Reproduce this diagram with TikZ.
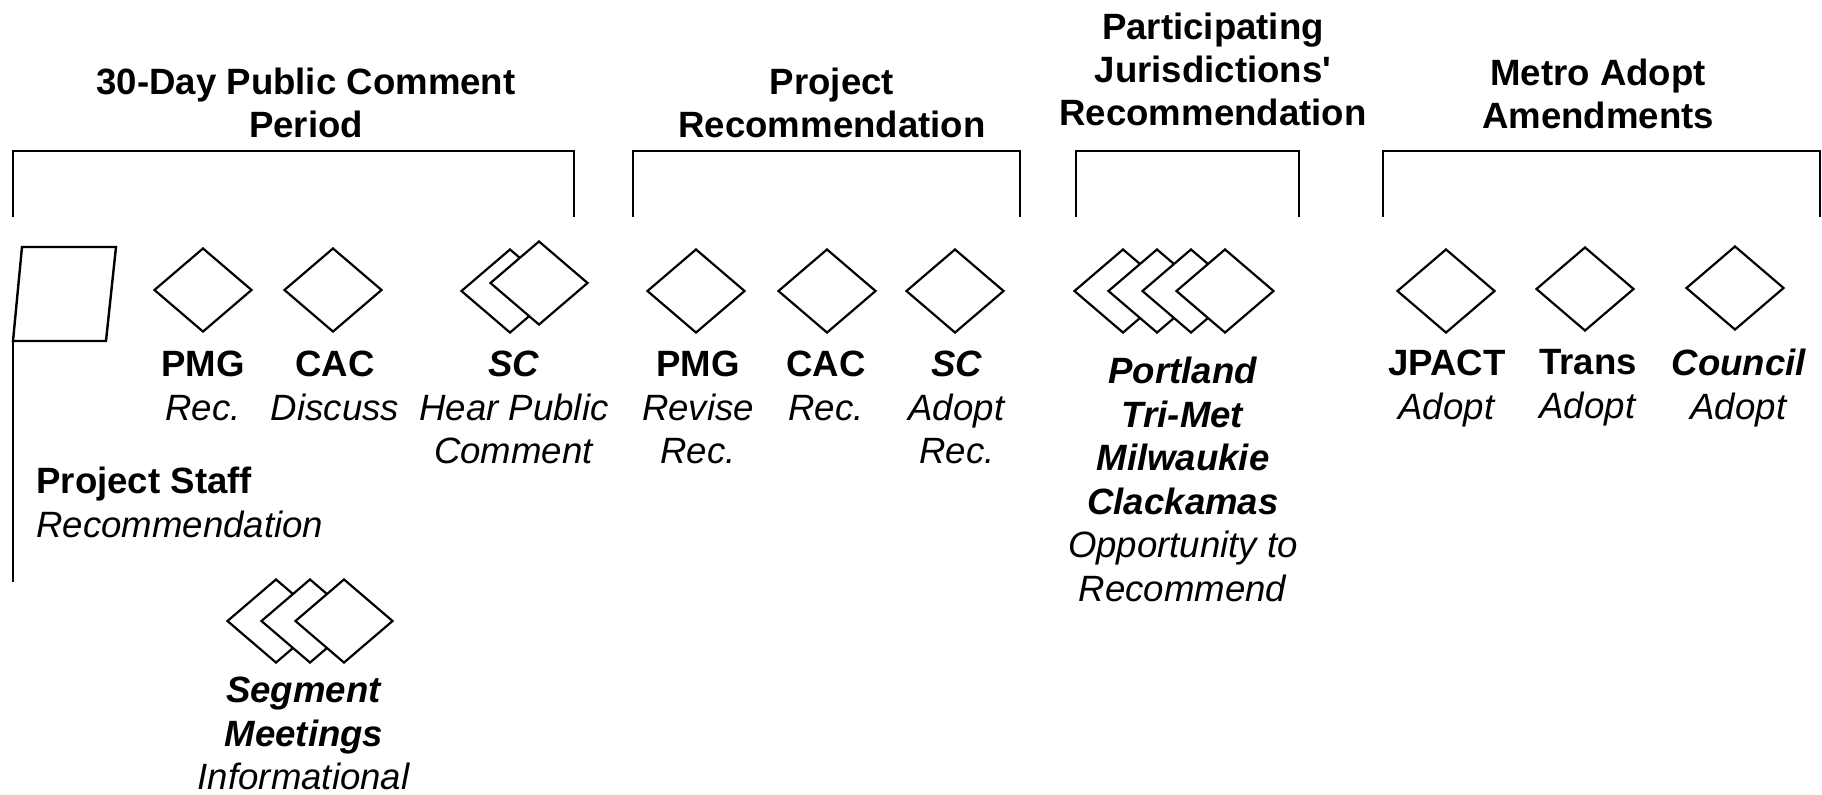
\documentclass[tikz,border=0pt]{standalone}
\usepackage{fontspec}
\setmainfont{Liberation Sans}
\usetikzlibrary{shapes.geometric}
\begin{document}
\begin{tikzpicture}[x=0.5pt,y=-0.5pt,
  gate/.style={diamond, draw, fill=white, line width=1.1pt, inner sep=0pt,
    minimum width=49pt, minimum height=42pt},
  heading/.style={font=\fontsize{18.3}{21.3}\selectfont\bfseries,
    align=center, anchor=north, inner sep=0pt},
  caption/.style={font=\fontsize{18.3}{21.75}\selectfont,
    align=center, anchor=north, inner sep=0pt},
  bracket/.style={line width=1.2pt, line join=miter},
  staffmark/.style={line width=1.2pt, line join=miter}
]
\useasboundingbox (0,0) rectangle (1822,794);

% phase headings
\node[heading] (t1) at (306,68) {30-Day Public Comment\\Period};
\node[heading] (t2) at (832,68) {Project\\Recommendation};
\node[heading] (t3) at (1213,13) {Participating\\Jurisdictions\textquotesingle\\Recommendation};
\node[heading] (t4) at (1598,59) {Metro Adopt\\Amendments};

% phase brackets
\draw[bracket] (13,217) -- (13,151) -- (574,151) -- (574,217);
\draw[bracket] (633,217) -- (633,151) -- (1020,151) -- (1020,217);
\draw[bracket] (1076,217) -- (1076,151) -- (1299,151) -- (1299,217);
\draw[bracket] (1383,217) -- (1383,151) -- (1820,151) -- (1820,217);

% project staff starting marker
\coordinate (ps1) at (22,247);
\coordinate (ps2) at (116,247);
\coordinate (ps3) at (106,341);
\coordinate (ps4) at (13,341);
\coordinate (psend) at (13,582);
\draw[staffmark] (ps1) -- (ps2) -- (ps3) -- (ps4) -- cycle;
\draw[staffmark] (ps4) -- (psend);
\node[caption, anchor=north west, align=left] (lstaff) at (36,467)
  {\textbf{Project Staff}\\\textit{Recommendation}};

% 30-day public comment period
\node[gate] (pmg1) at (203,290) {};
\node[gate] (cac1) at (333,290) {};
\node[gate] (sc1a) at (510,291) {};
\node[gate] (sc1b) at (539,283) {};
\node[caption] (lpmg1) at (203,351) {\textbf{PMG}\\\textit{Rec.}};
\node[caption] (lcac1) at (335,351) {\textbf{CAC}\\\textit{Discuss}};
\node[caption] (lsc1) at (514,351) {\textbf{\textit{SC}}\\\textit{Hear Public}\\\textit{Comment}};

% segment meetings
\node[gate] (seg1) at (276,621) {};
\node[gate] (seg2) at (310,621) {};
\node[gate] (seg3) at (344,621) {};
\node[caption] (lseg) at (304,677)
  {\textbf{\textit{Segment}}\\\textbf{\textit{Meetings}}\\\textit{Informational}};

% project recommendation
\node[gate] (pmg2) at (696,291) {};
\node[gate] (cac2) at (827,291) {};
\node[gate] (sc2) at (955,291) {};
\node[caption] (lpmg2) at (698,351) {\textbf{PMG}\\\textit{Revise}\\\textit{Rec.}};
\node[caption] (lcac2) at (826,351) {\textbf{CAC}\\\textit{Rec.}};
\node[caption] (lsc2) at (957,351) {\textbf{\textit{SC}}\\\textit{Adopt}\\\textit{Rec.}};

% participating jurisdictions
\node[gate] (jur1) at (1123,291) {};
\node[gate] (jur2) at (1157,291) {};
\node[gate] (jur3) at (1191,291) {};
\node[gate] (jur4) at (1225,291) {};
\node[caption] (ljur) at (1183,357)
  {\textbf{\textit{Portland}}\\\textbf{\textit{Tri-Met}}\\\textbf{\textit{Milwaukie}}\\
   \textbf{\textit{Clackamas}}\\\textit{Opportunity to}\\\textit{Recommend}};

% metro adoption
\node[gate] (jpact) at (1446,291) {};
\node[gate] (trans) at (1585,289) {};
\node[gate] (council) at (1735,288) {};
\node[caption] (ljpact) at (1447,350) {\textbf{JPACT}\\\textit{Adopt}};
\node[caption] (ltrans) at (1588,349) {\textbf{Trans}\\\textit{Adopt}};
\node[caption] (lcouncil) at (1739,349) {\textbf{\textit{Council}}\\\textit{Adopt}};
\end{tikzpicture}
\end{document}
